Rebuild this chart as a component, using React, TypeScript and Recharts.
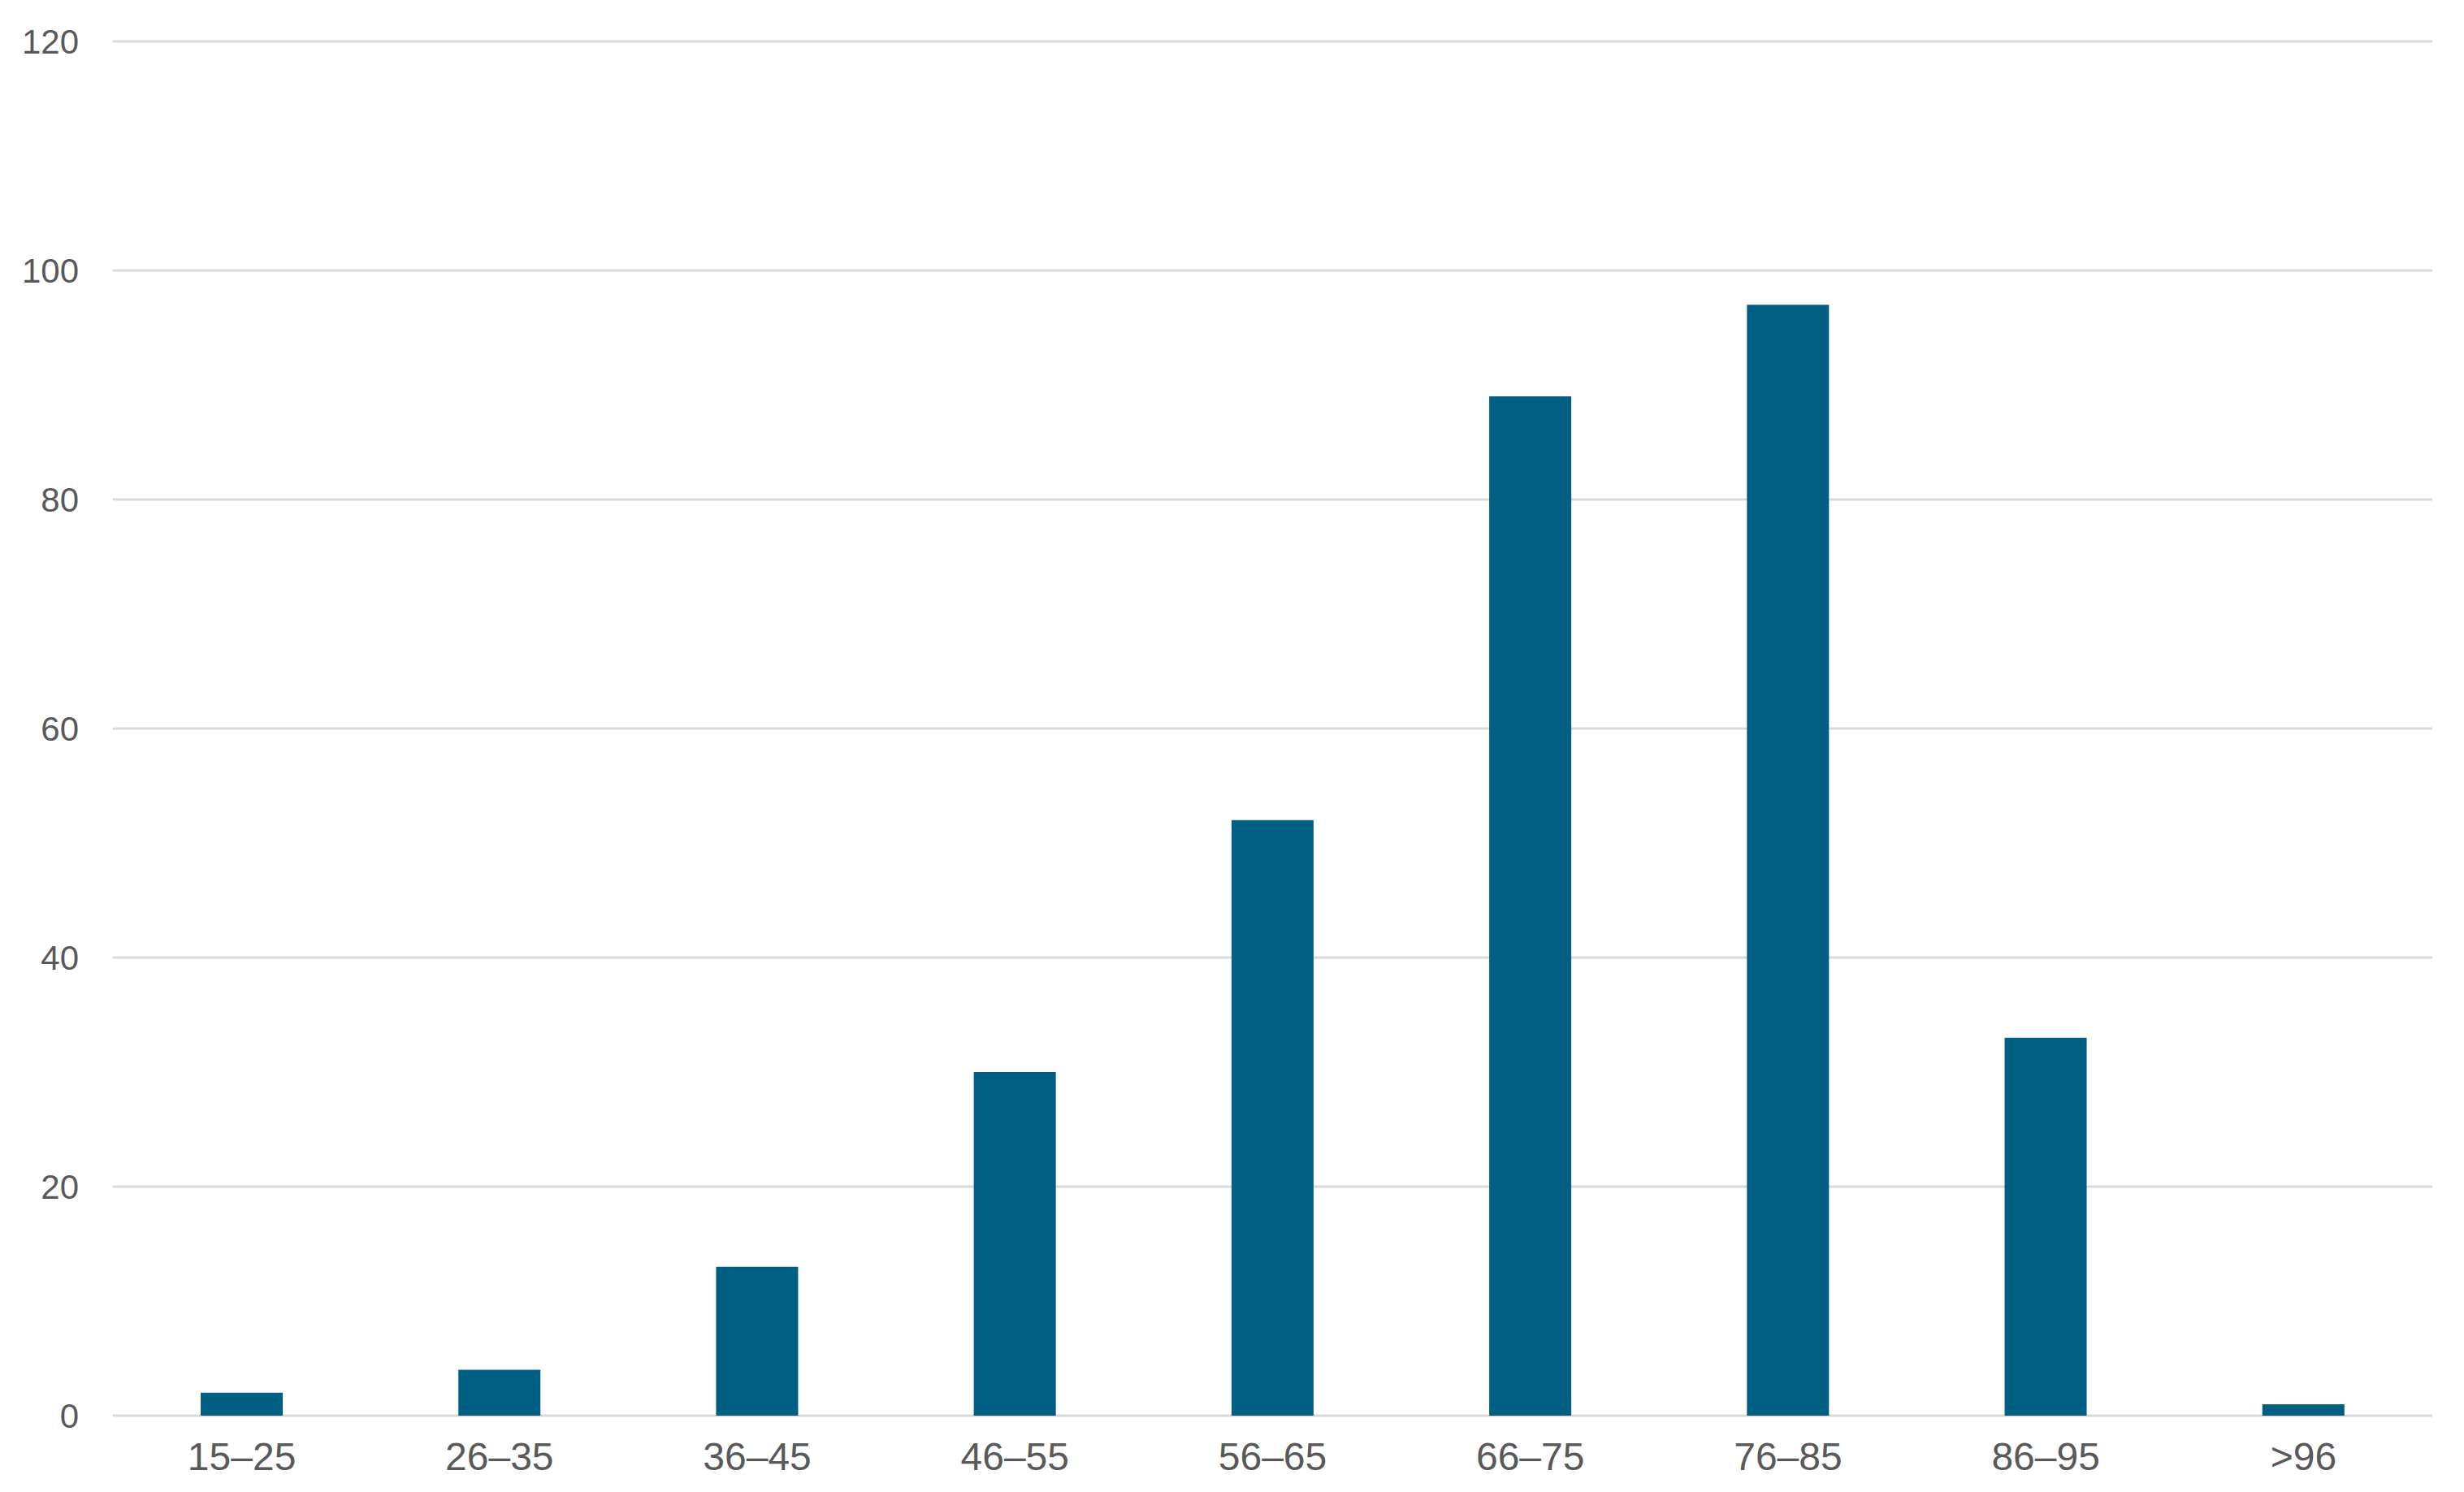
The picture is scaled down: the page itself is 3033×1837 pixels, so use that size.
import { BarChart, Bar, XAxis, YAxis, CartesianGrid } from "recharts";

const ageGroups = ["15–25", "26–35", "36–45", "46–55", "56–65", "66–75", "76–85", "86–95", ">96"];
const counts = [2, 4, 13, 30, 52, 89, 97, 33, 1];
const yTicks = [0, 20, 40, 60, 80, 100, 120];

const data = ageGroups.map((group, i) => ({ group, count: counts[i] }));

const FONT = '"Liberation Sans", Arial, sans-serif';

export default function App() {
  return (
    <div style={{ position: "fixed", left: 0, top: 0, background: "#fff" }}>
      <BarChart
        width={3033}
        height={1837}
        data={data}
        margin={{ top: 51, right: 39, left: 0, bottom: 0 }}
      >
        <CartesianGrid vertical={false} stroke="#D9D9D9" strokeWidth={3} />
        <XAxis
          dataKey="group"
          axisLine={false}
          tickLine={false}
          tickSize={0}
          tickMargin={33}
          height={94}
          interval={0}
          tick={{ fontSize: 48, fill: "#595959", fontFamily: FONT }}
        />
        <YAxis
          domain={[0, 120]}
          ticks={yTicks}
          axisLine={false}
          tickLine={false}
          tickSize={0}
          tickMargin={42}
          width={139}
          tick={{ fontSize: 42, fill: "#595959", fontFamily: FONT }}
        />
        <Bar dataKey="count" fill="#005F83" barSize={101} isAnimationActive={false} />
      </BarChart>
    </div>
  );
}
